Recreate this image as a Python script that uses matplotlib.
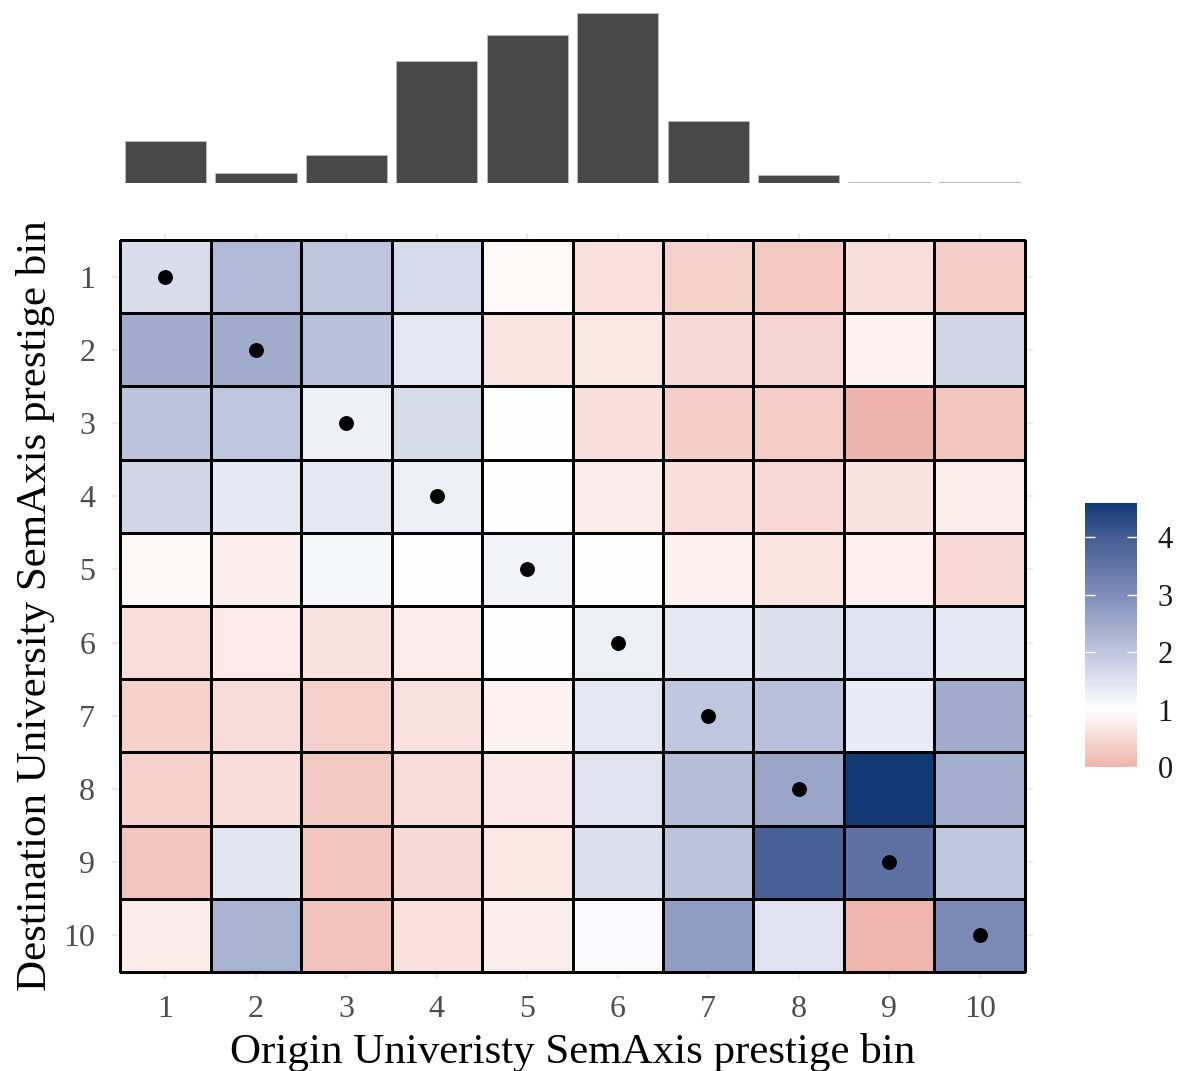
import numpy as np
import matplotlib
matplotlib.use("Agg")
import matplotlib.pyplot as plt
from matplotlib.colors import LinearSegmentedColormap, Normalize
from matplotlib.cm import ScalarMappable

# Prestige bins (1 = most prestigious)
bins = list(range(1, 11))

# Mobility ratio: rows = destination bin, columns = origin bin
ratio_row1 = [1.60, 2.20, 2.00, 1.64, 0.93, 0.60, 0.41, 0.30, 0.58, 0.37]
ratio_row2 = [2.45, 2.45, 2.10, 1.41, 0.66, 0.67, 0.51, 0.45, 0.83, 1.72]
ratio_row3 = [2.04, 1.98, 1.26, 1.62, 1.00, 0.59, 0.37, 0.33, 0.03, 0.24]
ratio_row4 = [1.72, 1.41, 1.41, 1.28, 1.00, 0.75, 0.58, 0.50, 0.63, 0.78]
ratio_row5 = [0.91, 0.76, 1.15, 1.00, 1.20, 0.99, 0.82, 0.66, 0.80, 0.50]
ratio_row6 = [0.58, 0.72, 0.63, 0.76, 1.00, 1.28, 1.41, 1.53, 1.50, 1.40]
ratio_row7 = [0.41, 0.54, 0.39, 0.62, 0.83, 1.41, 1.98, 2.12, 1.35, 2.46]
ratio_row8 = [0.38, 0.54, 0.32, 0.54, 0.71, 1.48, 2.14, 2.57, 4.60, 2.40]
ratio_row9 = [0.25, 1.45, 0.26, 0.51, 0.67, 1.53, 2.04, 3.92, 3.60, 1.97]
ratio_row10 = [0.74, 2.32, 0.21, 0.60, 0.76, 1.07, 2.70, 1.48, 0.04, 3.06]

# Number of origins per bin (marginal bar chart)
origin_counts = [42, 10, 28, 122, 148, 170, 62, 8, 1, 1.5]

ratio = np.array([ratio_row1, ratio_row2, ratio_row3, ratio_row4, ratio_row5,
                  ratio_row6, ratio_row7, ratio_row8, ratio_row9, ratio_row10])

vmin, vmid, vmax = 0.0, 1.0, 4.6
stops = [(0.0, "#EFB3AB"), (1.0, "#FFFFFF"), (2.0, "#BEC5DE"),
         (3.0, "#7F8DB9"), (4.0, "#455D95"), (4.6, "#123A77")]
cmap = LinearSegmentedColormap.from_list(
    "diverge", [((v - vmin) / (vmax - vmin), c) for v, c in stops])
norm = Normalize(vmin=vmin, vmax=vmax)

serif = ["Liberation Serif", "DejaVu Serif"]
plt.rcParams["font.family"] = serif

W, H = 1179, 1071
fig = plt.figure(figsize=(W / 100, H / 100), dpi=100)


def frac(x0, y0, x1, y1):
    return [x0 / W, 1 - y1 / H, (x1 - x0) / W, (y1 - y0) / H]


# Heatmap panel
ax = fig.add_axes(frac(111.9, 233.4, 1033.1, 978.6))
ax.set_xlim(0.41, 10.59)
ax.set_ylim(10.59, 0.41)
for s in ax.spines.values():
    s.set_visible(False)
ax.set_xticks(bins)
ax.set_yticks(bins)
ax.grid(True, color="#EBEBEB", linewidth=1.6)
ax.set_axisbelow(True)
ax.tick_params(length=0, labelsize=23, labelcolor="#4D4D4D", pad=12)

edges = np.arange(0.5, 11.5, 1.0)
ax.pcolormesh(edges, edges, ratio, cmap=cmap, norm=norm,
              edgecolors="black", linewidth=0.75, zorder=2)
ax.scatter(bins, bins, s=115, color="black", zorder=3, linewidths=0)

ax.set_xlabel("Origin Univeristy SemAxis prestige bin", fontsize=31,
              color="black", labelpad=6)
ax.set_ylabel("Destination University SemAxis prestige bin", fontsize=31,
              color="black", labelpad=6)

# Marginal bar chart of origins
axb = fig.add_axes(frac(111.9, 13, 1033.1, 183))
axb.bar(bins, origin_counts, width=0.9, color="#484848",
        edgecolor="#BDBDBD", linewidth=0.6)
axb.set_xlim(0.41, 10.59)
axb.set_ylim(0, max(origin_counts))
axb.axis("off")

# Colour bar
cax = fig.add_axes(frac(1085, 503, 1137, 767))
cb = fig.colorbar(ScalarMappable(norm=norm, cmap=cmap), cax=cax)
cb.outline.set_visible(False)
ticks = [0, 1, 2, 3, 4]
cb.set_ticks(ticks)
cax.tick_params(length=0, labelsize=22, labelcolor="#1A1A1A", pad=15)
tr = cax.get_yaxis_transform()
cax.hlines(ticks, 0, 0.2, colors="white", linewidth=1.0, transform=tr)
cax.hlines(ticks, 0.8, 1.0, colors="white", linewidth=1.0, transform=tr)

fig.savefig("out.png", dpi=100)
